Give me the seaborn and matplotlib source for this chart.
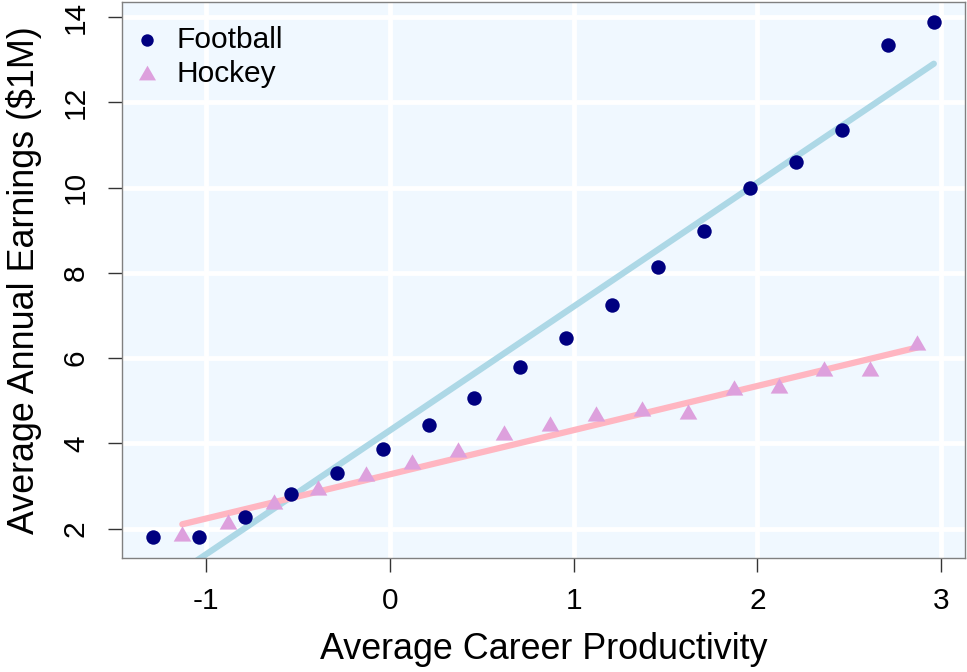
import numpy as np
import pandas as pd
import matplotlib.pyplot as plt
import seaborn as sns

# values
football_x = [-1.29, -1.04, -0.79, -0.54, -0.29, -0.04, 0.21, 0.46, 0.71,
              0.96, 1.21, 1.46, 1.71, 1.96, 2.21, 2.46, 2.71, 2.96]
football_y = [1.81, 1.81, 2.27, 2.81, 3.31, 3.86, 4.44, 5.06, 5.79,
              6.48, 7.25, 8.13, 8.99, 10.0, 10.6, 11.34, 13.34, 13.88]
hockey_x = [-1.13, -0.88, -0.63, -0.39, -0.13, 0.12, 0.37, 0.62, 0.87,
            1.12, 1.37, 1.62, 1.87, 2.12, 2.36, 2.61, 2.87]
hockey_y = [1.84, 2.12, 2.57, 2.92, 3.23, 3.52, 3.81, 4.20, 4.40,
            4.65, 4.75, 4.69, 5.26, 5.30, 5.71, 5.71, 6.31]
x_ticks = [-1, 0, 1, 2, 3]
y_ticks = [2, 4, 6, 8, 10, 12, 14]

sns.set_style('ticks')
plt.rcParams['font.family'] = ['Liberation Sans', 'DejaVu Sans']
plt.rcParams['axes.unicode_minus'] = False
plt.rcParams['text.color'] = 'black'
plt.rcParams['axes.labelcolor'] = 'black'
plt.rcParams['xtick.color'] = 'black'
plt.rcParams['ytick.color'] = 'black'

# equilateral triangle, centred on its centroid (like R's pch 17)
tri = [(0, 1), (-0.866, -0.5), (0.866, -0.5)]

fig, ax = plt.subplots(figsize=(9.67, 6.72), dpi=100)
fig.subplots_adjust(left=0.126, right=0.998, top=0.997, bottom=0.17)
ax.set_facecolor('aliceblue')

# fitted lines
sns.regplot(x=football_x, y=football_y, scatter=False, ci=None,
            color='lightblue', line_kws={'lw': 4.5, 'solid_capstyle': 'round'}, ax=ax)
sns.regplot(x=hockey_x, y=hockey_y, scatter=False, ci=None,
            color='lightpink', line_kws={'lw': 4.5, 'solid_capstyle': 'round'}, ax=ax)

# points
sns.scatterplot(x=football_x, y=football_y, color='navy', marker='o',
                s=108, linewidth=0, zorder=3, label='Football', ax=ax)
sns.scatterplot(x=hockey_x, y=hockey_y, color='plum', marker=tri,
                s=215, linewidth=0, zorder=3, label='Hockey', ax=ax)

ax.set_xlim(-1.459, 3.13)
ax.set_ylim(1.32, 14.35)
ax.set_xticks(x_ticks)
ax.set_yticks(y_ticks)
ax.grid(True, color='white', lw=3.5)
ax.set_axisbelow(True)

for s in ax.spines.values():
    s.set_color('grey')
    s.set_linewidth(1)

ax.tick_params(axis='both', labelsize=21.5, length=10, width=1, color='#333333')
ax.tick_params(axis='x', pad=11)
ax.tick_params(axis='y', pad=13, labelrotation=90)
for lab in ax.get_yticklabels():
    lab.set_va('center')

ax.set_xlabel('Average Career Productivity', fontsize=25.8)
ax.set_ylabel('Average Annual Earnings ($1M)', fontsize=25.8)
ax.xaxis.set_label_coords(0.5, -0.133)
ax.yaxis.set_label_coords(-0.0945, 0.5)

leg = ax.legend(loc='upper left', bbox_to_anchor=(0.001, 0.957), frameon=False,
                fontsize=21.5, handletextpad=0.2, handlelength=1.6,
                borderaxespad=0, borderpad=0, labelspacing=0.22)
leg.legend_handles[0].set_sizes([80])
leg.legend_handles[1].set_sizes([200])

plt.savefig('out.png', dpi=100)
